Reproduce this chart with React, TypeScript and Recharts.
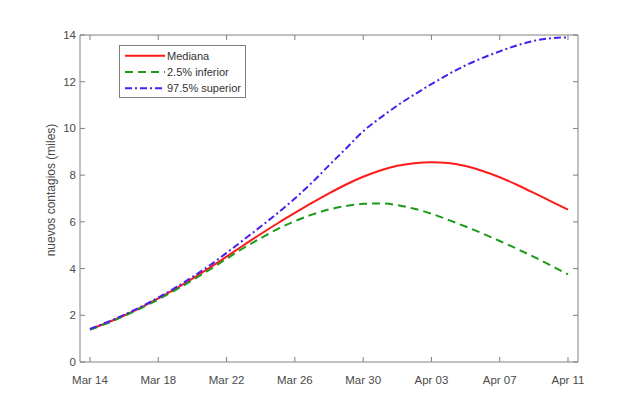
import React from 'react';
import { LineChart, Line, XAxis, YAxis, Legend, ReferenceLine } from 'recharts';

// ---------- data ----------
const dayLabels = [
  'Mar 14', 'Mar 15', 'Mar 16', 'Mar 17', 'Mar 18', 'Mar 19', 'Mar 20', 'Mar 21', 'Mar 22',
  'Mar 23', 'Mar 24', 'Mar 25', 'Mar 26', 'Mar 27', 'Mar 28', 'Mar 29', 'Mar 30', 'Mar 31',
  'Apr 01', 'Apr 02', 'Apr 03', 'Apr 04', 'Apr 05', 'Apr 06', 'Apr 07', 'Apr 08', 'Apr 09',
  'Apr 10', 'Apr 11',
];
const xTickDays = [0, 4, 8, 12, 16, 20, 24, 28];
const yTicks = [0, 2, 4, 6, 8, 10, 12, 14];

const mediana = [
  1.40, 1.68, 1.99, 2.34, 2.72, 3.13, 3.57, 4.03, 4.51, 5.00, 5.48, 5.94, 6.38, 6.81, 7.22,
  7.60, 7.93, 8.20, 8.40, 8.51, 8.55, 8.52, 8.39, 8.18, 7.91, 7.59, 7.24, 6.88, 6.52,
];
const inferior = [
  1.38, 1.66, 1.97, 2.31, 2.68, 3.08, 3.50, 3.95, 4.42, 4.88, 5.30, 5.70, 6.03, 6.31, 6.53,
  6.68, 6.77, 6.79, 6.72, 6.56, 6.35, 6.08, 5.80, 5.50, 5.18, 4.85, 4.50, 4.13, 3.75,
];
const superior = [
  1.42, 1.70, 2.02, 2.37, 2.76, 3.18, 3.64, 4.13, 4.67, 5.23, 5.80, 6.38, 7.00, 7.68, 8.42,
  9.14, 9.88, 10.45, 10.98, 11.45, 11.90, 12.32, 12.70, 13.02, 13.30, 13.55, 13.75, 13.86, 13.90,
];

const seriesNames = ['Mediana', '2.5% inferior', '97.5% superior'];

const data = dayLabels.map((label, i) => ({
  day: i,
  label,
  mediana: mediana[i],
  inferior: inferior[i],
  superior: superior[i],
}));

// ---------- styles / layout ----------
const W = 643;
const H = 397;
const PLOT_LEFT = 80;
const PLOT_RIGHT = 578;
const PLOT_TOP = 35;
const PLOT_BOTTOM = 362;
const X_MIN = -0.586;
const X_MAX = 28.586;
const Y_MAX = 14;
const AXIS_COLOR = '#808080';
const TEXT_COLOR = '#4a4a4a';
const FONT = '"Liberation Sans", Arial, Helvetica, sans-serif';
const TICK_LEN = 5;

const styles: Record<string, { color: string; dash?: string; width: number }> = {
  mediana: { color: '#ff1a1a', width: 2 },
  inferior: { color: '#1c9a1c', dash: '8 5', width: 2 },
  superior: { color: '#4a1ef2', dash: '7 3 2 3', width: 2 },
};
const keyOrder = ['mediana', 'inferior', 'superior'];

const XTick = (props: any) => {
  const { x, payload } = props;
  return (
    <g>
      <line x1={x} x2={x} y1={PLOT_BOTTOM} y2={PLOT_BOTTOM - TICK_LEN} stroke={AXIS_COLOR} strokeWidth={1} />
      <line x1={x} x2={x} y1={PLOT_TOP} y2={PLOT_TOP + TICK_LEN} stroke={AXIS_COLOR} strokeWidth={1} />
      <text
        x={x}
        y={PLOT_BOTTOM + 22}
        textAnchor="middle"
        fontSize={11.5}
        fontFamily={FONT}
        fill={TEXT_COLOR}
      >
        {dayLabels[payload.value]}
      </text>
    </g>
  );
};

const YTick = (props: any) => {
  const { y, payload } = props;
  return (
    <g>
      <line x1={PLOT_LEFT} x2={PLOT_LEFT + TICK_LEN} y1={y} y2={y} stroke={AXIS_COLOR} strokeWidth={1} />
      <line x1={PLOT_RIGHT} x2={PLOT_RIGHT - TICK_LEN} y1={y} y2={y} stroke={AXIS_COLOR} strokeWidth={1} />
      <text
        x={PLOT_LEFT - 4}
        y={y + 4}
        textAnchor="end"
        fontSize={11.5}
        fontFamily={FONT}
        fill={TEXT_COLOR}
      >
        {payload.value}
      </text>
    </g>
  );
};

const LegendBox = (props: any) => {
  const payload = [...(props.payload || [])].sort(
    (a: any, b: any) => keyOrder.indexOf(a.dataKey) - keyOrder.indexOf(b.dataKey)
  );
  return (
    <svg width={127} height={53} style={{ display: 'block' }}>
      <rect x={0.5} y={0.5} width={126} height={52} fill="#ffffff" stroke={AXIS_COLOR} strokeWidth={1} />
      {payload.map((entry: any, i: number) => {
        const k = entry.dataKey as string;
        const st = styles[k];
        const cy = 10.7 + i * 16.3;
        return (
          <g key={k}>
            <line
              x1={6}
              x2={46}
              y1={cy}
              y2={cy}
              stroke={st.color}
              strokeWidth={st.width}
              strokeDasharray={st.dash}
            />
            <text x={48} y={cy + 4} fontSize={11} fontFamily={FONT} fill="#333333">
              {entry.value}
            </text>
          </g>
        );
      })}
    </svg>
  );
};

export default function App() {
  return (
    <div style={{ position: 'absolute', left: 0, top: 0, width: W, height: H, background: '#ffffff' }}>
      <LineChart
        width={W}
        height={H}
        data={data}
        margin={{ top: PLOT_TOP, right: W - PLOT_RIGHT, bottom: 0, left: 0 }}
      >
        <XAxis
          dataKey="day"
          type="number"
          domain={[X_MIN, X_MAX]}
          allowDataOverflow
          ticks={xTickDays}
          tick={<XTick />}
          tickLine={false}
          axisLine={{ stroke: AXIS_COLOR, strokeWidth: 1 }}
          height={H - PLOT_BOTTOM}
          interval={0}
        />
        <YAxis
          type="number"
          domain={[0, Y_MAX]}
          ticks={yTicks}
          tick={<YTick />}
          tickLine={false}
          axisLine={{ stroke: AXIS_COLOR, strokeWidth: 1 }}
          width={PLOT_LEFT}
          interval={0}
          label={{
            value: 'nuevos contagios (miles)',
            angle: -90,
            position: 'insideLeft',
            content: () => (
              <text
                x={55}
                y={190}
                transform="rotate(-90 55 190)"
                textAnchor="middle"
                fontSize={12}
                fontFamily={FONT}
                fill={TEXT_COLOR}
              >
                nuevos contagios (miles)
              </text>
            ),
          }}
        />
        <ReferenceLine y={Y_MAX} stroke={AXIS_COLOR} strokeWidth={1} ifOverflow="visible" />
        <ReferenceLine x={X_MAX} stroke={AXIS_COLOR} strokeWidth={1} ifOverflow="visible" />
        <Legend
          layout="vertical"
          verticalAlign="middle"
          align="center"
          content={<LegendBox />}
          wrapperStyle={{ position: 'absolute', left: 119, top: 45, width: 127, height: 53 }}
        />
        {keyOrder.map((k, i) => (
          <Line
            key={k}
            type="monotone"
            dataKey={k}
            name={seriesNames[i]}
            stroke={styles[k].color}
            strokeWidth={styles[k].width}
            strokeDasharray={styles[k].dash}
            dot={false}
            activeDot={false}
            isAnimationActive={false}
          />
        ))}
      </LineChart>
    </div>
  );
}
